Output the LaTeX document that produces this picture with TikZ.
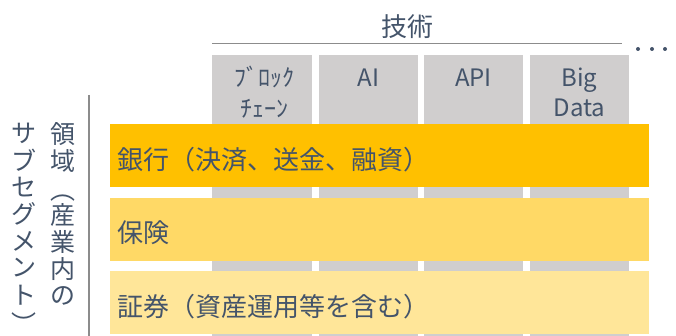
\documentclass[tikz,border=0pt]{standalone}
\usepackage{fontspec}
\setmainfont{Noto Sans CJK JP}
\definecolor{txt}{HTML}{44546A}
\definecolor{colgray}{HTML}{D0CECE}
\definecolor{barA}{HTML}{FFC000}
\definecolor{barB}{HTML}{FFD966}
\definecolor{barC}{HTML}{FFE699}
\definecolor{rulegray}{HTML}{8C8C8C}
\begin{document}
\begin{tikzpicture}[x=1pt,y=-1pt,
  colbox/.style={fill=colgray, draw=none, inner sep=0pt, minimum width=100pt, minimum height=281pt, anchor=north west},
  barbox/.style={draw=none, inner sep=0pt, minimum width=539pt, minimum height=63pt, anchor=north west},
  collabel/.style={text=txt, font=\fontsize{24pt}{28pt}\selectfont, anchor=base, inner sep=0pt},
  barlabel/.style={text=txt, font=\fontsize{26pt}{30pt}\selectfont, anchor=base west, inner sep=0pt},
  vchar/.style={text=txt, font=\fontsize{25pt}{28pt}\selectfont, inner sep=0pt, minimum width=25pt, minimum height=25pt},
  dot/.style={circle, fill=txt, inner sep=0pt, minimum size=4pt}
]
\useasboundingbox (0,0) rectangle (676,336);
% technology columns
\node[colbox] (c1) at (212,55) {};
\node[colbox, minimum width=99pt] (c2) at (319,55) {};
\node[colbox, minimum width=99pt] (c3) at (424,55) {};
\node[colbox, minimum width=99pt] (c4) at (530,55) {};
\node[collabel] (l1a) at (264,87) {ﾌﾞﾛｯｸ};
\node[collabel] (l1b) at (264,118) {ﾁｪｰﾝ};
\node[collabel] (l2) at (368.5,87) {AI};
\node[collabel] (l3) at (473.5,87) {API};
\node[collabel] (l4a) at (579.5,87) {Big};
\node[collabel] (l4b) at (579.5,117) {Data};
% header
\node[text=txt, font=\fontsize{26pt}{28pt}\selectfont, inner sep=0pt] (tech) at (407,27) {技術};
\coordinate (hl) at (212,44);
\coordinate (hr) at (622,44);
\draw[rulegray, line width=1pt] (hl) -- (hr);
\node[dot] (d1) at (638,49) {};
\node[dot] (d2) at (652,49) {};
\node[dot] (d3) at (665,49) {};
% bars
\node[barbox, fill=barA] (b1) at (110,124) {};
\node[barbox, fill=barB] (b2) at (110,198) {};
\node[barbox, fill=barC] (b3) at (110,271) {};
\node[barlabel] (t1) at (117,170) {銀行（決済、送金、融資）};
\node[barlabel] (t2) at (117,243) {保険};
\node[barlabel] (t3) at (117,316) {証券（資産運用等を含む）};
% left rule
\coordinate (vt) at (89,95);
\coordinate (vb) at (89,336);
\draw[rulegray, line width=1.5pt] (vt) -- (vb);
% vertical text, column 1
\node[vchar] (v1) at (63,134) {領};
\node[vchar] (v2) at (63,161) {域};
\node[vchar, rotate=-90] (v3) at (63,190) {（};
\node[vchar] (v4) at (63,215) {産};
\node[vchar] (v5) at (63,242) {業};
\node[vchar] (v6) at (63,269) {内};
\node[vchar] (v7) at (63,296) {の};
% vertical text, column 2
\node[vchar] (w1) at (24,133) {サ};
\node[vchar] (w2) at (24,160) {ブ};
\node[vchar] (w3) at (24,187) {セ};
\node[vchar] (w4) at (24,214) {グ};
\node[vchar] (w5) at (24,241) {メ};
\node[vchar] (w6) at (24,268) {ン};
\node[vchar] (w7) at (24,295) {ト};
\node[text=txt, font=\fontsize{25pt}{28pt}\selectfont, inner sep=0pt] (w8) at (24,323) {︶};
\end{tikzpicture}
\end{document}
